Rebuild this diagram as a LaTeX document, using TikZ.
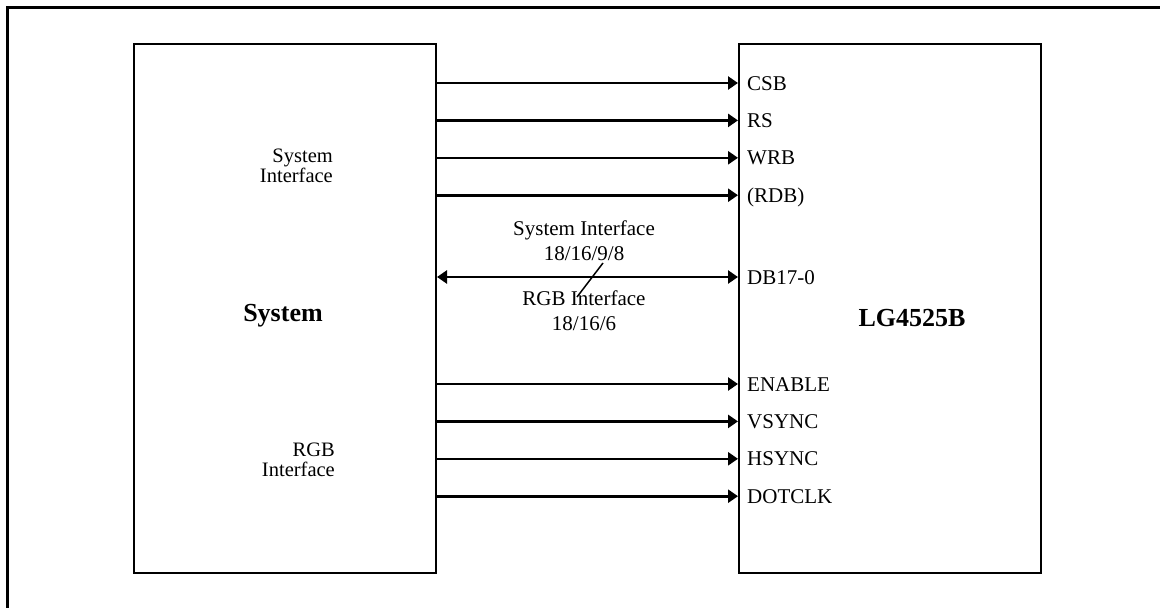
\documentclass[tikz,border=0pt]{standalone}
\usepackage{fontspec}
\setmainfont{Liberation Serif}
\usepackage{tikz}
\usetikzlibrary{positioning, arrows.meta}

\tikzset{
  blk/.style={draw, line width=2pt, minimum width=302pt, minimum height=529pt, inner sep=0pt},
  sig/.style={anchor=west, inner sep=0pt, text height=14pt, text depth=0pt, font=\fontsize{21}{25}\selectfont},
  wire/.style={line width=2.6pt, -{Triangle[length=10pt,width=13pt]}},
  bus/.style={line width=2.6pt, {Triangle[length=10pt,width=13pt]}-{Triangle[length=10pt,width=13pt]}},
  txt/.style={align=center, inner sep=0pt, font=\fontsize{21}{25}\selectfont},
  side/.style={align=right, inner sep=0pt, anchor=east, font=\fontsize{20.5}{19.5}\selectfont},
  title/.style={inner sep=0pt, font=\fontsize{26}{30}\selectfont\bfseries}
}

\begin{document}
\begin{tikzpicture}[x=1pt,y=-1pt]
\useasboundingbox (0,0) rectangle (1160,608);
%frame
\draw[line width=3pt] (7,608) -- (7,7) -- (1160,7);

\node[blk] (sys) at (285,308.5) {};
\node[blk] (lg) at (890,308.5) {};
\node[title] (systxt) at (283,316) {System};
\node[title] (lgtxt) at (912,318) {LG4525B};

\node[side] (sysif) at (333,166) {System\\Interface};
\node[side] (rgbif) at (335,460) {RGB\\Interface};

%system interface
\node[sig] (csb) at (747,83) {CSB};
\node[sig, below=23pt of csb.south west, anchor=north west] (rs) {RS};
\node[sig, below=23pt of rs.south west, anchor=north west] (wrb) {WRB};
\node[sig, below=23pt of wrb.south west, anchor=north west] (rdb) {(RDB)};
\node[sig] (db) at (747,277) {DB17-0};

%rgb interface
\node[sig] (en) at (747,384) {ENABLE};
\node[sig, below=23pt of en.south west, anchor=north west] (vs) {VSYNC};
\node[sig, below=23pt of vs.south west, anchor=north west] (hs) {HSYNC};
\node[sig, below=23pt of hs.south west, anchor=north west] (dot) {DOTCLK};

\draw[wire] (sys.east |- csb.west) -- (lg.west |- csb.west);
\draw[wire] (sys.east |- rs.west) -- (lg.west |- rs.west);
\draw[wire] (sys.east |- wrb.west) -- (lg.west |- wrb.west);
\draw[wire] (sys.east |- rdb.west) -- (lg.west |- rdb.west);
\draw[bus] (sys.east |- db.west) -- (lg.west |- db.west);
\draw[wire] (sys.east |- en.west) -- (lg.west |- en.west);
\draw[wire] (sys.east |- vs.west) -- (lg.west |- vs.west);
\draw[wire] (sys.east |- hs.west) -- (lg.west |- hs.west);
\draw[wire] (sys.east |- dot.west) -- (lg.west |- dot.west);

\node[txt] (busup) at (584,241) {System Interface\\18/16/9/8};
\node[txt] (buslo) at (584,311) {RGB Interface\\18/16/6};
\coordinate (sl1) at (603,263);
\coordinate (sl2) at (577,297);
\draw[line width=1.5pt] (sl1) -- (sl2);
\end{tikzpicture}
\end{document}
